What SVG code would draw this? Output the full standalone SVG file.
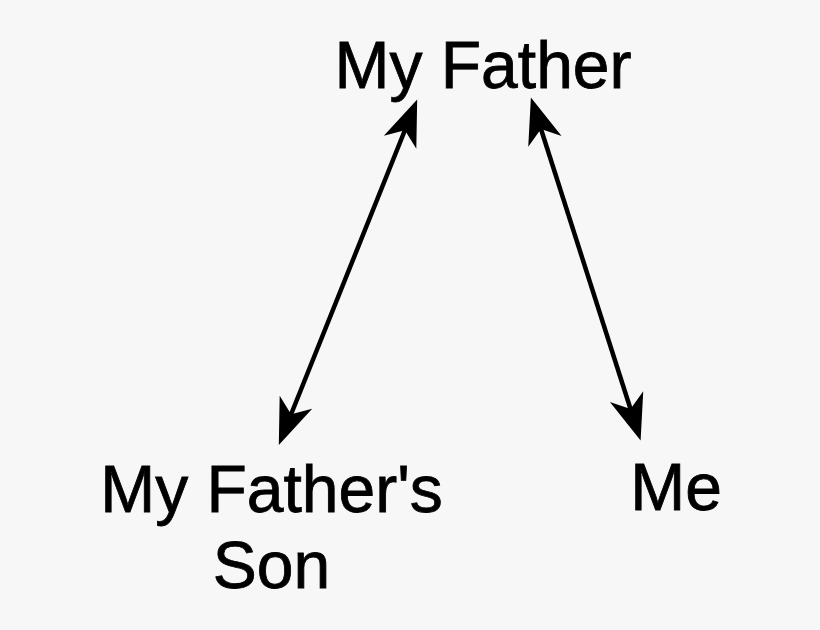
<svg xmlns="http://www.w3.org/2000/svg" width="820" height="630" viewBox="0 0 820 630">
<style>
.lbl{font-family:"Liberation Sans",Arial,sans-serif;font-size:66px;fill:#000;stroke:#000;stroke-width:0.8;text-anchor:middle}
.con{stroke:#000;stroke-width:4.5;fill:none;marker-start:url(#ah);marker-end:url(#ah)}
</style>
<defs>
<marker id="ah" markerUnits="userSpaceOnUse" markerWidth="80" markerHeight="60" refX="0" refY="0" orient="auto-start-reverse" overflow="visible">
<path d="M22,0 L-24,-17.5 L-11,0 L-24,17.5 Z" fill="#000"/>
</marker>
</defs>
<rect width="820" height="630" fill="#f7f7f7"/>
<g id="connectors">
<line class="con" x1="287" y1="424.5" x2="409" y2="120"/>
<line class="con" x1="537.6" y1="118.5" x2="633.9" y2="419.5"/>
</g>
<g id="my-father"><text class="lbl" x="483" y="88">My Father</text></g>
<g id="my-fathers-son"><text class="lbl" x="271.5" y="512">My Father's</text><text class="lbl" x="271.5" y="588">Son</text></g>
<g id="me"><text class="lbl" x="676" y="510">Me</text></g>
</svg>
